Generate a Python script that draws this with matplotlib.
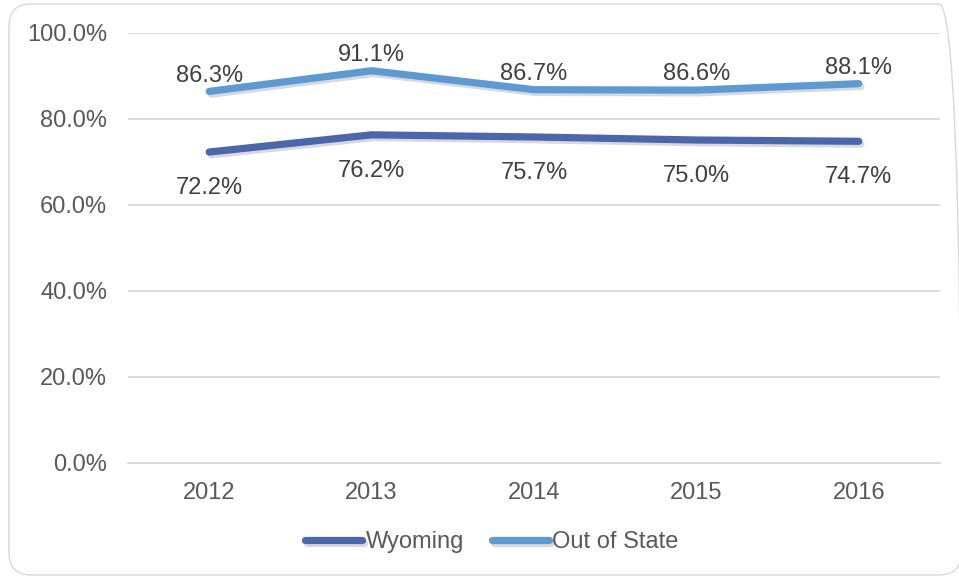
import matplotlib.pyplot as plt
import matplotlib.patheffects as pe
from matplotlib.patches import FancyBboxPatch
from matplotlib.transforms import IdentityTransform
from matplotlib.ticker import FuncFormatter

plt.rcParams['font.family'] = ['Liberation Sans', 'DejaVu Sans']

years = ['2012', '2013', '2014', '2015', '2016']
wyoming = [72.2, 76.2, 75.7, 75.0, 74.7]
out_of_state = [86.3, 91.1, 86.7, 86.6, 88.1]

dark_blue = '#4A66AC'
light_blue = '#5B9BD5'
text_col = '#404040'

fig = plt.figure(figsize=(9.59, 5.77), dpi=100)
ax = fig.add_axes([128 / 959, 1 - 462.5 / 577, 812 / 959, 430 / 577])

# rounded chart border (pixel coords), right edge runs just off the image
border = FancyBboxPatch((9, 2), 952, 571, boxstyle='round,pad=0,rounding_size=22',
                        transform=IdentityTransform(), fill=False, edgecolor='#D9D9D9', linewidth=1.0)
fig.patches.append(border)

x = list(range(len(years)))
shadow = [pe.SimpleLineShadow(offset=(1.5, -2), alpha=0.15, shadow_color='black'), pe.Normal()]

ax.plot(x, wyoming, color=dark_blue, linewidth=5.2, solid_capstyle='round',
        path_effects=shadow, label='Wyoming', zorder=3)
ax.plot(x, out_of_state, color=light_blue, linewidth=5.2, solid_capstyle='round',
        path_effects=shadow, label='Out of State', zorder=3)

for i in x:
    ax.annotate(f'{out_of_state[i]:.1f}%', (i, out_of_state[i]), xytext=(0, 7),
                textcoords='offset points', ha='center', va='baseline', fontsize=17, color=text_col)
    ax.annotate(f'{wyoming[i]:.1f}%', (i, wyoming[i]), xytext=(0, -30),
                textcoords='offset points', ha='center', va='baseline', fontsize=17, color=text_col)

ax.set_xlim(-0.5, len(years) - 0.5)
ax.set_ylim(0, 100)
ax.set_yticks([0, 20, 40, 60, 80, 100])
ax.yaxis.set_major_formatter(FuncFormatter(lambda v, p: f'{v:.1f}%'))
ax.set_xticks(x)
ax.set_xticklabels(years)
ax.tick_params(axis='both', length=0, labelsize=17, colors='#595959')
ax.tick_params(axis='x', pad=14)
ax.tick_params(axis='y', pad=15)
ax.grid(axis='y', color='#D9D9D9', linewidth=1.3)
ax.set_axisbelow(True)
for s in ['top', 'right', 'left']:
    ax.spines[s].set_visible(False)
ax.spines['bottom'].set_color('#D9D9D9')
ax.spines['bottom'].set_linewidth(1.3)

leg = fig.legend(loc='center', bbox_to_anchor=(492 / 959, 1 - 542 / 577), ncol=2, frameon=False,
                 fontsize=17, handlelength=2.4, handletextpad=0.15, columnspacing=1.2)
for t in leg.get_texts():
    t.set_color('#595959')

fig.savefig('out.png', dpi=100)
